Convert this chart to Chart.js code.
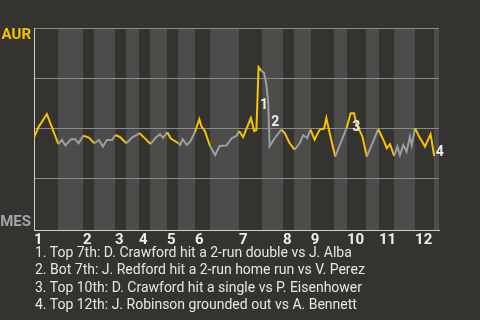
<!DOCTYPE html>
<html>
<head>
<meta charset="utf-8">
<script src="https://cdn.jsdelivr.net/npm/chart.js@4.4.1/dist/chart.umd.min.js"></script>
<style>
    html, body { margin: 0; padding: 0; background: #353330; }
    #wrap { position: relative; width: 480px; height: 320px; overflow: hidden; }
    #notes {
        position: absolute; left: 35px; top: 244px;
        font: 14px Roboto, sans-serif; line-height: 17.3px;
        color: #e6e6e4; white-space: nowrap;
    }
</style>
</head>
<body>
<div id="wrap">
    <canvas id="wpChart" width="480" height="320"></canvas>
    <div id="notes"></div>
</div>
<script>
const innings = ["1", "2", "3", "4", "5", "6", "7", "8", "9", "10", "11", "12"];
// play number where each half inning starts (top 1st, bot 1st, top 2nd, ...)
const halfInningStarts = [0, 6.5, 13.3, 16.3, 22, 25, 28.5, 31.5, 36.1, 39.1, 43.7, 47.8,
    55.7, 61.9, 67.6, 70.6, 75.2, 81.5, 85, 90.2, 93.7, 97.8, 103.5, 108.6];
const lastPlay = 110;
const teams = ["AUR", "MES"];

const playNumbers = [0, 1.3, 3.5, 6.6, 7.6, 8.5, 10.1, 11.2, 12.1, 13.4,
    14.9, 16.4, 17.6, 18.7, 19.8, 21.2, 22.1, 23.4, 25.1, 26.6,
    28.7, 29.9, 31.7, 32.9, 34.2, 35.1, 36.2, 37.1, 37.8, 39.2,
    39.7, 40.4, 41.5, 42.4, 43.7, 44.9, 45.5, 46.4, 47.8, 49.2,
    50.4, 52.3, 53.7, 55, 55.7, 56.8, 58.9, 59.8, 60.4, 61,
    61.7, 62.5, 63.1, 63.6, 64, 65.4, 67.2, 68.1, 69.4, 70.8,
    72.2, 73.1, 74.2, 75.1, 76.2, 77.6, 78.8, 79.4, 80.3, 81.8,
    84.9, 86, 86.9, 87.6, 88.5, 89.2, 90.4, 93.5, 95.1, 95.8,
    96.7, 97.8, 98.7, 99.4, 100.3, 101.2, 102.1, 102.6, 103.5, 104.6,
    106.2, 107.7, 108.7];
// AUR win probability (%)
const aurWinPct = [45.2, 50.7, 56.9, 42, 44, 41.3, 44.4, 44.4, 42.4, 46.2,
    45.2, 42.4, 44, 40.7, 44, 44, 46.5, 45.4, 42.4, 45.2,
    47.4, 45.2, 42, 44.9, 46.9, 45.2, 47.9, 44.9, 44, 42.4,
    41.5, 44.4, 41.5, 43.2, 47.9, 54.4, 50.7, 48.5, 41, 36.5,
    41, 41.3, 44.9, 46, 48.5, 45.4, 55, 48.5, 49, 80.4,
    78.7, 77.5, 71.7, 63.4, 40.9, 45, 49.2, 47.5, 42.5, 39.2,
    42.5, 46.4, 45, 49.2, 44.2, 49.2, 49.7, 55, 47.5, 35.7,
    49.9, 57.4, 57.4, 51.9, 48.5, 45.7, 35.7, 49.4, 43.2, 39.9,
    41.9, 36, 40.7, 36.5, 41.5, 38.2, 45.7, 41.5, 49.9, 45.7,
    40.7, 46.9, 36];

// [from point, to point] of each noted play
const noteSegments = [[48, 49], [52, 54], [70, 71], [91, 92]];
const noteTexts = [
    "1. Top 7th: D. Crawford hit a 2-run double vs J. Alba",
    "2. Bot 7th: J. Redford hit a 2-run home run vs V. Perez",
    "3. Top 10th: D. Crawford hit a single vs P. Eisenhower",
    "4. Top 12th: J. Robinson grounded out vs A. Bennett"
];

const YELLOW = "#f5c400";
const GRAY = "#9a9fa3";

document.getElementById("notes").innerHTML = noteTexts.map(t => `<div>${t}</div>`).join("");

function halfIndexAt(x) {
    let idx = 0;
    for (let i = 0; i < halfInningStarts.length; i++) {
        if (x >= halfInningStarts[i]) idx = i;
    }
    return idx;
}

// lighter bands for the bottom halves
const bandsPlugin = {
    id: "bands",
    beforeDraw(chart) {
        const { ctx, chartArea: a } = chart;
        const x = chart.scales.x;
        ctx.save();
        ctx.fillStyle = "#4d4c4a";
        for (let i = 1; i < halfInningStarts.length; i += 2) {
            const end = i + 1 < halfInningStarts.length ? halfInningStarts[i + 1] : lastPlay;
            const x0 = Math.round(x.getPixelForValue(halfInningStarts[i]));
            const x1 = Math.round(x.getPixelForValue(end));
            ctx.fillRect(x0, a.top, x1 - x0, a.bottom - a.top);
        }
        ctx.restore();
    }
};

const labelsPlugin = {
    id: "labels",
    afterDatasetsDraw(chart) {
        const { ctx } = chart;
        const x = chart.scales.x, y = chart.scales.y;
        ctx.save();
        ctx.font = "bold 15px Roboto";
        ctx.textAlign = "right";
        ctx.textBaseline = "alphabetic";
        ctx.fillStyle = YELLOW;
        ctx.fillText(teams[0], chart.chartArea.left - 3, y.getPixelForValue(100) + 11);
        ctx.fillStyle = "#a3a7aa";
        ctx.fillText(teams[1], chart.chartArea.left - 3, y.getPixelForValue(0) - 2);

        ctx.font = "bold 14px Roboto";
        ctx.textAlign = "left";
        ctx.fillStyle = "#eeeeee";
        noteSegments.forEach(([a, b], i) => {
            const px = x.getPixelForValue(playNumbers[b]) + 1.5;
            const py = (y.getPixelForValue(aurWinPct[a]) + y.getPixelForValue(aurWinPct[b])) / 2;
            ctx.fillText(String(i + 1), px, py + 10.5);
        });
        ctx.restore();
    }
};

const ctx = document.getElementById("wpChart").getContext("2d");
new Chart(ctx, {
    type: "line",
    data: {
        datasets: [{
            data: playNumbers.map((p, i) => ({ x: p, y: aurWinPct[i] })),
            borderColor: YELLOW,
            borderWidth: 2,
            pointRadius: 0,
            tension: 0,
            segment: {
                borderColor: c => halfIndexAt((c.p0.parsed.x + c.p1.parsed.x) / 2) % 2 === 0 ? YELLOW : GRAY
            }
        }]
    },
    options: {
        responsive: false,
        animation: false,
        layout: { padding: { left: 34, top: 28, right: 41, bottom: 70 } },
        plugins: { legend: { display: false }, tooltip: { enabled: false } },
        scales: {
            x: {
                type: "linear",
                min: 0,
                max: lastPlay,
                afterBuildTicks: s => {
                    s.ticks = halfInningStarts.filter((v, i) => i % 2 === 0).map(v => ({ value: v }));
                },
                ticks: {
                    callback: (v, i) => innings[i],
                    align: "start",
                    autoSkip: false,
                    maxRotation: 0,
                    padding: 1,
                    color: "#eeeeee",
                    font: { family: "Roboto", weight: "bold", size: 15 }
                },
                grid: { display: false, drawTicks: false },
                border: { display: true, color: "#cfcfcf", width: 1 }
            },
            y: {
                min: -1,
                max: 100,
                afterBuildTicks: s => {
                    s.ticks = [25, 50, 75, 100].map(v => ({ value: v }));
                },
                ticks: { display: false },
                grid: { color: "#8a8a8a", drawTicks: false, lineWidth: 1 },
                border: { display: true, color: "#cfcfcf", width: 1 }
            }
        }
    },
    plugins: [bandsPlugin, labelsPlugin]
});
</script>
</body>
</html>
